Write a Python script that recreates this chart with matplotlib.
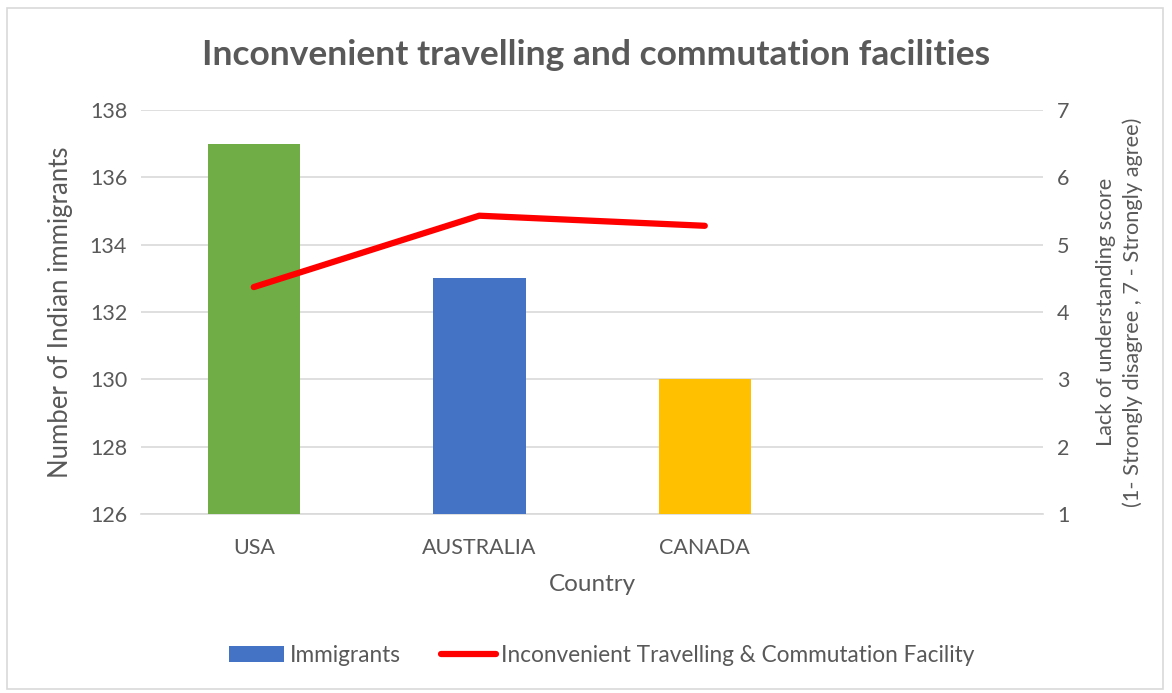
import matplotlib.pyplot as plt
from matplotlib.patches import Rectangle
from matplotlib.lines import Line2D
from matplotlib.patches import Patch

plt.rcParams['font.family'] = ['Lato', 'DejaVu Sans']

countries = ["USA", "AUSTRALIA", "CANADA", ""]
immigrants = [137, 133, 130]
bar_colors = ["#70AD47", "#4472C4", "#FFC000"]
travel_score = [4.37, 5.43, 5.28]

left_ticks = [126, 128, 130, 132, 134, 136, 138]
right_ticks = [1, 2, 3, 4, 5, 6, 7]

grey = "#595959"

fig = plt.figure(figsize=(11.72, 6.93), dpi=100)
ax = fig.add_axes([0.1203, 0.2583, 0.7697, 0.583])
ax2 = ax.twinx()

x = list(range(len(countries)))
ax.bar(x[:3], immigrants, width=0.41, color=bar_colors, zorder=3)
ax.set_ylim(126, 138)
ax.set_yticks(left_ticks)
ax.set_xlim(-0.5, len(countries) - 0.5)
ax.set_xticks(x)
ax.set_xticklabels(countries)
ax.grid(axis='y', color="#D9D9D9", linewidth=1.2, zorder=0)
ax.set_axisbelow(True)

ax2.plot(x[:3], travel_score, color="#FF0000", linewidth=4.5,
         solid_capstyle='round', zorder=4)
ax2.set_ylim(1, 7)
ax2.set_yticks(right_ticks)

for a in (ax, ax2):
    for s in a.spines.values():
        s.set_visible(False)
    a.tick_params(length=0, labelsize=15.5, colors=grey, pad=10)
ax.spines['bottom'].set_visible(True)
ax.spines['bottom'].set_color("#D9D9D9")
ax.spines['bottom'].set_linewidth(1.2)
ax.tick_params(axis='x', pad=17)

ax.set_ylabel("Number of Indian immigrants", fontsize=18.5, color=grey, labelpad=12)
ax.set_xlabel("Country", fontsize=17.5, color=grey, labelpad=12)
ax2.set_ylabel("Lack of understanding score\n(1- Strongly disagree , 7 - Strongly agree)",
               fontsize=15.7, color=grey, labelpad=19, linespacing=1.4)

fig.text(596 / 1172, 1 - 55 / 693, "Inconvenient travelling and commutation facilities",
         ha='center', va='center', fontsize=25.5, fontweight='bold', color=grey)

handles = [Patch(facecolor="#4472C4", edgecolor="none"),
           Line2D([0], [0], color="#FF0000", linewidth=4.5, solid_capstyle='round')]
fig.legend(handles, ["Immigrants", "Inconvenient Travelling & Commutation Facility"],
           loc='center', bbox_to_anchor=(602 / 1172, 1 - 655 / 693), ncol=2, frameon=False,
           fontsize=16.3, labelcolor=grey, handlelength=2.4, handletextpad=0.25,
           columnspacing=1.8)

fig.patches.append(Rectangle((0.006, 0.006), 0.986, 0.982, transform=fig.transFigure,
                             fill=False, edgecolor="#D9D9D9", linewidth=1.2))

fig.savefig("out.png", dpi=100)
